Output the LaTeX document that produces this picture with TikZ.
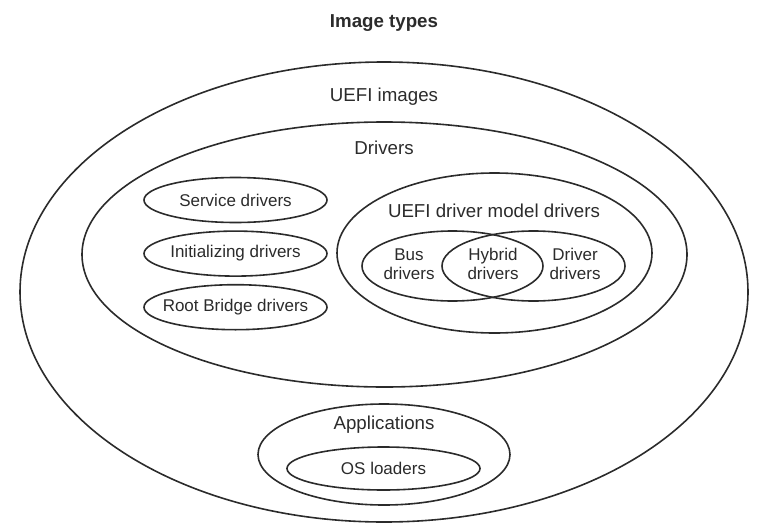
\documentclass[tikz,border=0pt]{standalone}
\usepackage{fontspec}
\setmainfont{Liberation Sans}
\usetikzlibrary{shapes.geometric,positioning}

\definecolor{ink}{HTML}{2B2B2B}

\begin{document}
\begin{tikzpicture}[x=1pt, y=-1pt, line width=1.6pt,
    ring/.style={ellipse, draw=ink, inner sep=0pt},
    pill/.style={ellipse, draw=ink, inner sep=0pt, inner xsep=-12pt, minimum width=183pt, minimum height=45pt,
      font=\fontsize{17}{20}\selectfont, text=ink},
    tag/.style={font=\fontsize{18.7}{22}\selectfont, text=ink, inner sep=0pt},
    pair/.style={font=\fontsize{17}{19.5}\selectfont, text=ink, align=center, inner sep=0pt}]
	  \useasboundingbox (0,0) rectangle (768,530);
	  \node[tag, font=\bfseries\fontsize{18.7}{22}\selectfont] (title) at (384,23) {Image types};
	  \node[ring, minimum width=728pt, minimum height=460pt] (images) at (384,292) {};
	  \node[ring, minimum width=605pt, minimum height=265pt] (drivers) at (384.5,254.5) {};
	  \node[ring, minimum width=315pt, minimum height=160pt] (model) at (494.5,253) {};
	  \node[ring, minimum width=181pt, minimum height=70pt] (bus) at (452.5,266) {};
	  \node[ring, minimum width=183pt, minimum height=70pt] (driver) at (533.5,266) {};
	  \node[ring, minimum width=252pt, minimum height=101pt] (apps) at (384,454.5) {};
	  \node[pill, minimum width=193pt, minimum height=43pt] (loaders) at (383.5,468.5) {OS loaders};
	  \node[pill] (service) at (235.5,200) {Service drivers};
	  \node[pill, below=7pt of service] (init) {Initializing drivers};
	  \node[pill, below=7pt of init] (rootbridge) {Root Bridge drivers};
	  \node[tag] (imageslbl) at (384,97) {UEFI images};
	  \node[tag] (driverslbl) at (384,148) {Drivers};
	  \node[tag] (modellbl) at (494,211) {UEFI driver model drivers};
	  \node[pair] (buslbl) at (409,264) {Bus\\drivers};
	  \node[pair] (hybridlbl) at (493,264) {Hybrid\\drivers};
	  \node[pair] (driverlbl) at (575,264) {Driver\\drivers};
	  \node[tag] (appslbl) at (384,425) {Applications};
	\end{tikzpicture}
\end{document}
